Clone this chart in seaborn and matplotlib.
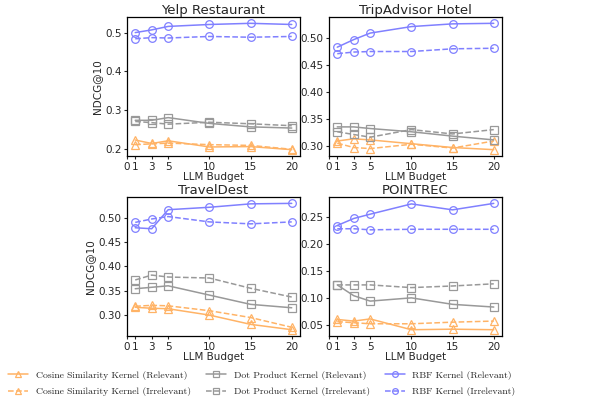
import numpy as np
import pandas as pd
import matplotlib
matplotlib.use('Agg')
import matplotlib.pyplot as plt
import seaborn as sns

budget = [1, 3, 5, 10, 15, 20]
datasets = ['Yelp Restaurant', 'TripAdvisor Hotel', 'TravelDest', 'POINTREC']

# NDCG@10 values per dataset
cos_rel = {
    'Yelp Restaurant': [0.222, 0.213, 0.220, 0.204, 0.205, 0.197],
    'TripAdvisor Hotel': [0.310, 0.314, 0.312, 0.305, 0.298, 0.294],
    'TravelDest': [0.316, 0.314, 0.313, 0.300, 0.281, 0.270],
    'POINTREC': [0.060, 0.057, 0.061, 0.041, 0.042, 0.041],
}
cos_irr = {
    'Yelp Restaurant': [0.210, 0.212, 0.214, 0.210, 0.208, 0.198],
    'TripAdvisor Hotel': [0.306, 0.298, 0.296, 0.304, 0.297, 0.310],
    'TravelDest': [0.318, 0.320, 0.319, 0.309, 0.295, 0.275],
    'POINTREC': [0.056, 0.054, 0.052, 0.052, 0.055, 0.057],
}
dot_rel = {
    'Yelp Restaurant': [0.273, 0.273, 0.280, 0.265, 0.256, 0.253],
    'TripAdvisor Hotel': [0.336, 0.336, 0.333, 0.327, 0.319, 0.312],
    'TravelDest': [0.354, 0.357, 0.360, 0.341, 0.322, 0.315],
    'POINTREC': [0.124, 0.104, 0.094, 0.100, 0.088, 0.083],
}
dot_irr = {
    'Yelp Restaurant': [0.270, 0.267, 0.263, 0.268, 0.264, 0.259],
    'TripAdvisor Hotel': [0.327, 0.322, 0.317, 0.331, 0.323, 0.331],
    'TravelDest': [0.372, 0.382, 0.378, 0.376, 0.355, 0.337],
    'POINTREC': [0.124, 0.124, 0.124, 0.119, 0.122, 0.126],
}
rbf_rel = {
    'Yelp Restaurant': [0.500, 0.507, 0.516, 0.521, 0.524, 0.521],
    'TripAdvisor Hotel': [0.483, 0.497, 0.509, 0.521, 0.526, 0.527],
    'TravelDest': [0.479, 0.477, 0.516, 0.521, 0.528, 0.529],
    'POINTREC': [0.234, 0.247, 0.255, 0.274, 0.263, 0.275],
}
rbf_irr = {
    'Yelp Restaurant': [0.484, 0.487, 0.486, 0.490, 0.488, 0.490],
    'TripAdvisor Hotel': [0.471, 0.474, 0.475, 0.475, 0.480, 0.481],
    'TravelDest': [0.490, 0.497, 0.502, 0.491, 0.487, 0.491],
    'POINTREC': [0.228, 0.228, 0.226, 0.227, 0.227, 0.227],
}

series = [
    ('Cosine Similarity Kernel (Relevant)', cos_rel, '#ffb366', '^', '-'),
    ('Cosine Similarity Kernel (Irrelevant)', cos_irr, '#ffb366', '^', '--'),
    ('Dot Product Kernel (Relevant)', dot_rel, '#999999', 's', '-'),
    ('Dot Product Kernel (Irrelevant)', dot_irr, '#999999', 's', '--'),
    ('RBF Kernel (Relevant)', rbf_rel, '#8080ff', 'o', '-'),
    ('RBF Kernel (Irrelevant)', rbf_irr, '#8080ff', 'o', '--'),
]

sns.set_style('white')
plt.rcParams['font.family'] = ['DejaVu Sans']

fig = plt.figure(figsize=(5.89, 4.01), dpi=100)
pos = [(0.2156, 0.611), (0.5586, 0.611), (0.2156, 0.162), (0.5586, 0.162)]

for i, name in enumerate(datasets):
    ax = fig.add_axes([pos[i][0], pos[i][1], 0.2937, 0.3466])
    for label, vals, color, marker, ls in series:
        df = pd.DataFrame({'budget': budget, 'ndcg': vals[name]})
        sns.lineplot(data=df, x='budget', y='ndcg', ax=ax, color=color,
                     marker=marker, linestyle=ls, markersize=5.5,
                     markerfacecolor='none', markeredgecolor=color,
                     markeredgewidth=0.9, linewidth=1.1, label=label,
                     legend=False)
    ax.set_xlim(0, 21)
    ax.set_xticks([0, 1, 3, 5, 10, 15, 20])
    ax.set_title(name, fontsize=9.5, pad=2)
    ax.set_xlabel('LLM Budget', fontsize=7.5, labelpad=0)
    ax.set_ylabel('NDCG@10' if i % 2 == 0 else '', fontsize=7.5, labelpad=2)
    ax.tick_params(axis='both', labelsize=7.5, length=2.5, width=0.8,
                   bottom=True, left=True, pad=1.5)
    for s in ax.spines.values():
        s.set_color('black')
        s.set_linewidth(0.9)
    if i == 0:
        handles, labels = ax.get_legend_handles_labels()

fig.legend(handles, labels, loc='center', bbox_to_anchor=(0.445, 0.044),
           ncol=3, frameon=False, prop={'family': 'cmr10', 'size': 7},
           handlelength=2.0, columnspacing=1.6, handletextpad=0.8,
           labelspacing=0.75, borderpad=0.2, markerscale=0.75)

fig.savefig('out.png', dpi=100)
